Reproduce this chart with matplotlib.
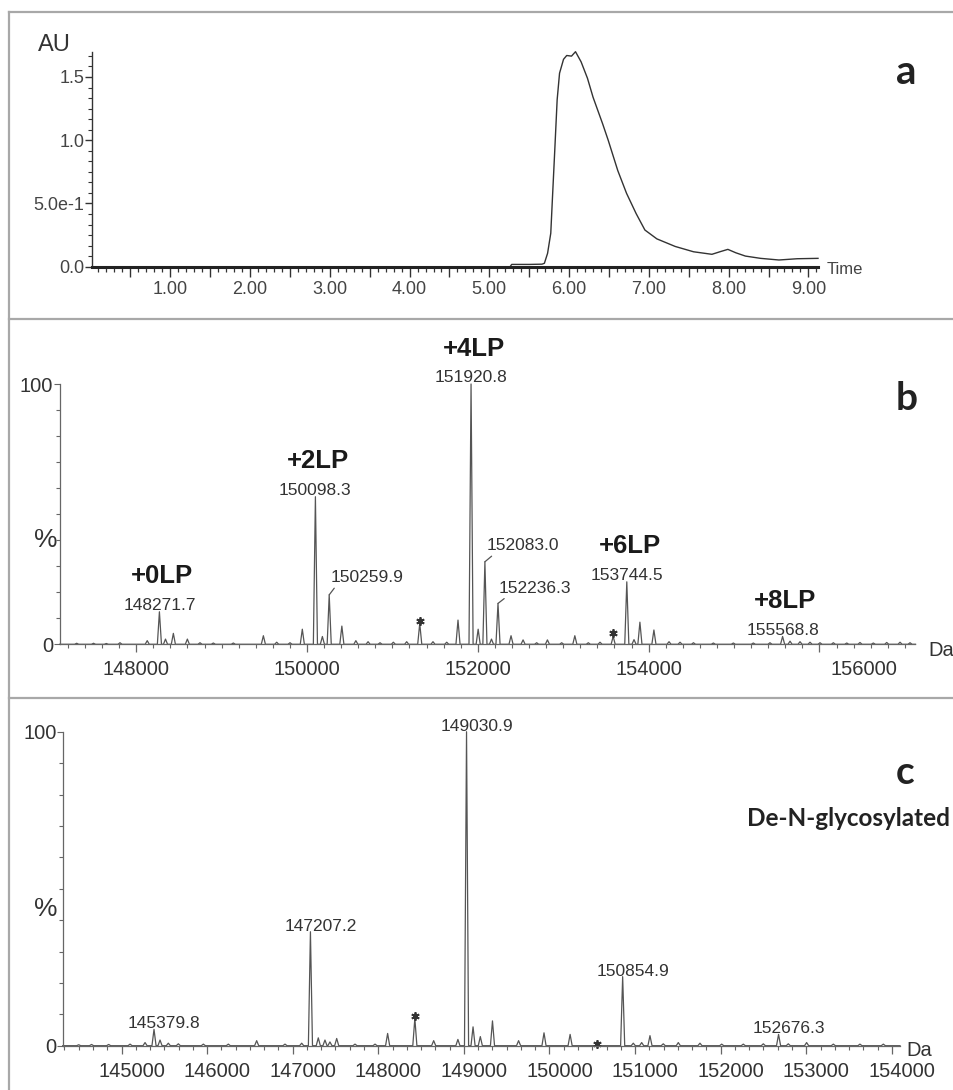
import matplotlib
matplotlib.use("Agg")
import matplotlib.pyplot as plt
from matplotlib.ticker import MultipleLocator, AutoMinorLocator, FuncFormatter
from matplotlib.transforms import ScaledTranslation
from matplotlib.lines import Line2D

W, H, DPI = 954, 1090, 100

# ---------------- data ----------------
# panel a: UV chromatogram
a_time = [0.03, 1.0, 2.0, 3.0, 4.0, 5.0, 5.26, 5.28, 5.50, 5.66, 5.69, 5.73, 5.77, 5.79,
          5.82, 5.85, 5.88, 5.93, 5.97, 6.03, 6.08, 6.15, 6.23, 6.30, 6.42, 6.49, 6.61,
          6.72, 6.84, 6.95, 7.10, 7.33, 7.56, 7.79, 7.90, 7.99, 8.09, 8.21, 8.40, 8.63,
          8.86, 9.12]
a_abs = [0.0, 0.0, 0.0, 0.0, 0.0, 0.0, 0.0, 0.018, 0.018, 0.02, 0.027, 0.106, 0.265, 0.53,
         0.92, 1.32, 1.53, 1.64, 1.67, 1.665, 1.70, 1.62, 1.49, 1.34, 1.13, 1.00, 0.76,
         0.58, 0.42, 0.29, 0.22, 0.16, 0.118, 0.098, 0.12, 0.137, 0.11, 0.084, 0.066, 0.053,
         0.063, 0.066]
a_yticks = [0.0, 0.5, 1.0, 1.5]
a_yticklabels = ["0.0", "5.0e-1", "1.0", "1.5"]

# panel b: deconvoluted mass spectrum (intact)
b_mass = [148271.7, 150098.3, 150259.9, 151920.8, 152083.0, 152236.3, 153744.5, 155568.8,
          148129, 148343, 148435, 148599, 149489, 149945, 150180, 150408, 150572, 150715,
          151320, 151475, 151768, 152004, 152160, 152389, 152530, 152815, 153136, 153585,
          153829, 153898, 154062, 154239, 154525,
          147303, 147500, 147650, 147810, 148747, 148903, 149137, 149645, 149801, 150855,
          151011, 151167, 151636, 152689, 152982, 153294, 153431, 154368, 154758, 154992,
          155226, 155421, 155656, 155773, 155890, 156007, 156163, 156320, 156475, 156631,
          156788, 156944, 157061]
b_int = [12.5, 56.7, 19.0, 100.0, 31.7, 15.7, 24.0, 3.0,
         1.4, 2.0, 4.2, 2.0, 3.3, 5.8, 3.0, 7.0, 1.4, 1.0,
         8.0, 1.0, 9.3, 5.8, 2.0, 3.3, 1.7, 1.7, 3.3, 3.0,
         1.8, 8.5, 5.5, 1.0, 0.6,
         0.4, 0.4, 0.3, 0.6, 0.6, 0.5, 0.5, 0.8, 0.6, 0.6,
         0.8, 1.0, 0.8, 0.6, 0.6, 0.6, 0.8, 0.8, 0.5, 0.5,
         0.5, 0.6, 1.2, 1.0, 0.8, 0.6, 0.6, 0.5, 0.7, 0.5,
         0.7, 0.8, 0.6]
b_label_mass = [148271.7, 150098.3, 150259.9, 151920.8, 152083.0, 152236.3, 153744.5, 155568.8]
b_label_text = ["148271.7", "150098.3", "150259.9", "151920.8", "152083.0", "152236.3",
                "153744.5", "155568.8"]
b_lp_mass = [148271.7, 150098.3, 151920.8, 153744.5, 155568.8]
b_lp_text = ["+0LP", "+2LP", "+4LP", "+6LP", "+8LP"]
b_star_mass = [151320, 153585]
b_star_y = [9.0, 4.4]
b_xticks = [148000, 150000, 152000, 154000, 156000]
b_xticklabels = ["148000", "150000", "152000", "154000", "156000"]

# panel c: de-N-glycosylated
c_mass = [145379.8, 147207.2, 149030.9, 150854.9, 152676.3,
          145275, 145450, 145547, 145664, 145956, 146248, 146579, 146910, 147105, 147299,
          147377, 147435, 147514, 147728, 147962, 148109, 148427, 148647, 148930, 149107,
          149192, 149334, 149639, 149936, 150241, 150559, 150979, 151077, 151174, 151329,
          151505, 151758, 152012, 152264, 152498, 152790, 153004, 153316, 153627, 153900,
          144500, 144650, 144850, 145100]
c_int = [5.2, 36.3, 100.0, 22.0, 3.6,
         1.0, 1.8, 0.8, 0.6, 0.5, 0.5, 1.6, 0.5, 0.8, 2.5,
         1.8, 1.2, 2.3, 0.5, 0.5, 3.9, 8.7, 1.6, 2.0, 6.0,
         2.9, 7.9, 1.6, 4.1, 3.6, 0.3, 0.8, 1.0, 3.2, 0.6,
         1.0, 0.8, 0.5, 0.5, 0.6, 0.6, 1.0, 0.5, 0.5, 0.5,
         0.3, 0.4, 0.4, 0.5]
c_label_mass = [145379.8, 147207.2, 149030.9, 150854.9, 152676.3]
c_label_text = ["145379.8", "147207.2", "149030.9", "150854.9", "152676.3"]
c_star_mass = [148427, 150559]
c_star_y = [9.4, 0.4]
c_xticks = [145000, 146000, 147000, 148000, 149000, 150000, 151000, 152000, 153000, 154000]
c_xticklabels = ["145000", "146000", "147000", "148000", "149000", "150000", "151000",
                 "152000", "153000", "154000"]

# ---------------- style ----------------
SANS = ["Liberation Sans", "DejaVu Sans"]
BOLD_LABEL = ["Lato", "DejaVu Sans"]
plt.rcParams["font.family"] = SANS
GREY = "#444444"
LINE = "#555555"

fig = plt.figure(figsize=(W / DPI, H / DPI), dpi=DPI)
fig.patch.set_facecolor("white")


def rect(l, t, r, b):
    return [l / W, 1 - b / H, (r - l) / W, (b - t) / H]


def fxy(px, py):
    return px / W, 1 - py / H


def profile(masses, ints, xmin, xmax, hw):
    pts = sorted(zip(masses, ints))
    xs, ys = [xmin], [0.0]
    for m, h in pts:
        xs += [m - hw, m, m + hw]
        ys += [0.0, h, 0.0]
    xs.append(xmax)
    ys.append(0.0)
    return xs, ys


# frame lines
frame_kw = dict(color="#a8a8a8", lw=1.6, transform=fig.transFigure)
for y in (12, 319.3, 698.3):
    fig.add_artist(Line2D([9 / W, 1], [1 - y / H, 1 - y / H], **frame_kw))
fig.add_artist(Line2D([9 / W, 9 / W], [1 - 12 / H, 0], **frame_kw))

# ---------------- panel a ----------------
ax = fig.add_axes(rect(92.5, 51.7, 818, 266.7))
ax.plot(a_time, a_abs, color="#333333", lw=1.0, clip_on=False)
ax.set_xlim(0.025, 9.12)
ax.set_ylim(0, 1.70)
for s in ("top", "right"):
    ax.spines[s].set_visible(False)
ax.spines["left"].set_linewidth(1.0)
ax.spines["left"].set_color("#333333")
ax.spines["bottom"].set_linewidth(2.2)
ax.spines["bottom"].set_color("#222222")
ax.xaxis.set_major_locator(MultipleLocator(0.5))
ax.xaxis.set_minor_locator(MultipleLocator(0.1))
ax.xaxis.set_major_formatter(FuncFormatter(
    lambda v, p: f"{v:.2f}" if abs(v - round(v)) < 1e-6 and v > 0.5 else ""))
ax.set_yticks(a_yticks, a_yticklabels)
ax.yaxis.set_minor_locator(AutoMinorLocator(6))
ax.tick_params(axis="x", which="major", length=7, width=1.0, pad=3.5, labelsize=13,
               color="#333333", labelcolor=GREY)
ax.tick_params(axis="x", which="minor", length=3.5, width=0.9, color="#333333")
ax.tick_params(axis="y", which="major", length=5, width=1.0, pad=1, labelsize=13,
               color="#333333", labelcolor=GREY)
ax.tick_params(axis="y", which="minor", length=3, width=0.8, color="#333333")
fig.text(*fxy(38, 45), "AU", fontsize=17, color="#333333", ha="left", va="center")
fig.text(*fxy(827, 269), "Time", fontsize=12, color=GREY, ha="left", va="center")
fig.text(*fxy(906, 72), "a", fontsize=29, fontweight="bold", family=BOLD_LABEL,
         color="#222222", ha="center", va="center")


# ---------------- spectra helper ----------------
def spectrum_axes(r, xmin, xmax, masses, ints, xticks, xticklabels, minor_n):
    ax = fig.add_axes(r)
    xs, ys = profile(masses, ints, xmin, xmax, 24)
    ax.plot(xs, ys, color=LINE, lw=0.9, clip_on=False)
    ax.set_xlim(xmin, xmax)
    ax.set_ylim(0, 100)
    for s in ("top", "right"):
        ax.spines[s].set_visible(False)
    for s in ("left", "bottom"):
        ax.spines[s].set_linewidth(0.9)
        ax.spines[s].set_color("#666666")
    ax.set_xticks(xticks, xticklabels)
    ax.xaxis.set_minor_locator(AutoMinorLocator(minor_n))
    ax.set_yticks([0, 100], ["0", "100"])
    ax.yaxis.set_minor_locator(MultipleLocator(10))
    ax.tick_params(axis="x", which="major", length=6, width=0.9, pad=5.5, labelsize=14.5,
                   color="#666666", labelcolor="#333333")
    ax.tick_params(axis="x", which="minor", length=3, width=0.8, color="#666666")
    ax.tick_params(axis="y", which="major", length=4, width=0.8, pad=0.5, labelsize=14.5,
                   color="#666666", labelcolor="#333333")
    ax.tick_params(axis="y", which="minor", length=3, width=0.8, color="#666666")
    return ax


def star(ax, xs, ys):
    ax.plot(xs, ys, ls="none", marker=(6, 2, 0), ms=6, mew=1.3, color="#333333",
            clip_on=False)


# ---------------- panel b ----------------
b_xmin, b_xmax = 147103, 157125
axb = spectrum_axes(rect(59.6, 384, 915.5, 644.3), b_xmin, b_xmax, b_mass, b_int,
                    b_xticks, b_xticklabels, 10)
b_height = dict(zip(b_mass, b_int))
# labels with leader lines: mass -> (text x, text y, relpos)
b_leader = {150259.9: (150702, 25.5, (0.08, 0.0)),
            152083.0: (152523, 37.8, (0.12, 0.0)),
            152236.3: (152673, 21.5, (0.12, 0.0))}
for m, t in zip(b_label_mass, b_label_text):
    h = b_height[m]
    if m in b_leader:
        tx, ty, rp = b_leader[m]
        axb.annotate(t, xy=(m, h), xytext=(tx, ty), textcoords="data", ha="center",
                     va="center", fontsize=12.5, color="#333333",
                     arrowprops=dict(arrowstyle="-", color=LINE, lw=0.9, relpos=rp,
                                     shrinkA=0, shrinkB=0), annotation_clip=False)
    else:
        axb.annotate(t, xy=(m, h), xytext=(0, 4.5), textcoords="offset points",
                     ha="center", va="center", fontsize=12.5, color="#333333",
                     annotation_clip=False)
for m, t in zip(b_lp_mass, b_lp_text):
    axb.annotate(t, xy=(m, b_height[m]), xytext=(2, 25.5), textcoords="offset points",
                 ha="center", va="center", fontsize=18.5, fontweight="bold",
                 color="#1a1a1a", annotation_clip=False)
star(axb, b_star_mass, b_star_y)
# last tick label is drawn offset to the right in the original
lbl = axb.get_xticklabels()[-1]
lbl.set_transform(lbl.get_transform() + ScaledTranslation(45 / DPI, 0, fig.dpi_scale_trans))
fig.text(*fxy(928, 650), "Da", fontsize=14.5, color="#333333", ha="left", va="center")
fig.text(*fxy(45.5, 540), "%", fontsize=19, color="#333333", ha="center", va="center")
fig.text(*fxy(907, 399), "b", fontsize=28, fontweight="bold", family=BOLD_LABEL,
         color="#222222", ha="center", va="center")

# ---------------- panel c ----------------
c_xmin, c_xmax = 144313, 154095
axc = spectrum_axes(rect(62.7, 731.7, 900, 1045.7), c_xmin, c_xmax, c_mass, c_int,
                    c_xticks, c_xticklabels, 6)
c_height = dict(zip(c_mass, c_int))
shift = ScaledTranslation(10 / DPI, 0, fig.dpi_scale_trans)
for m, t in zip(c_label_mass, c_label_text):
    axc.annotate(t, xy=(m, c_height[m]), xytext=(7.2, 4), textcoords="offset points",
                 ha="center", va="center", fontsize=12.5, color="#333333",
                 annotation_clip=False)
for lbl in axc.get_xticklabels():
    lbl.set_transform(lbl.get_transform() + shift)
star(axc, c_star_mass, c_star_y)
fig.text(*fxy(906, 1050), "Da", fontsize=14.5, color="#333333", ha="left", va="center")
fig.text(*fxy(45.5, 909), "%", fontsize=19, color="#333333", ha="center", va="center")
fig.text(*fxy(905, 773), "c", fontsize=28, fontweight="bold", family=BOLD_LABEL,
         color="#222222", ha="center", va="center")
fig.text(*fxy(950, 818), "De-N-glycosylated", fontsize=17.5, fontweight="bold",
         family=BOLD_LABEL, color="#222222", ha="right", va="center")

fig.savefig("out.png", dpi=DPI, facecolor="white")
